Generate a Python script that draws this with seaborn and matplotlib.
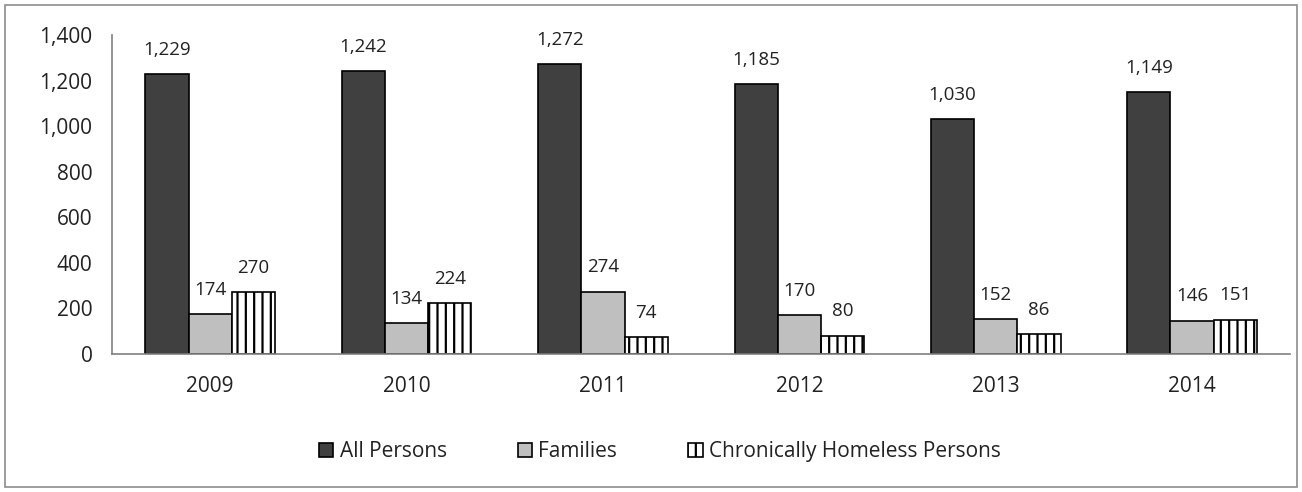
import numpy as np
import pandas as pd
import matplotlib
matplotlib.use('Agg')
import matplotlib.pyplot as plt
import seaborn as sns
from matplotlib.patches import Rectangle

years = ['2009', '2010', '2011', '2012', '2013', '2014']
all_persons = [1229, 1242, 1272, 1185, 1030, 1149]
families = [174, 134, 274, 170, 152, 146]
chronic = [270, 224, 74, 80, 86, 151]
series = ['All Persons', 'Families', 'Chronically Homeless Persons']

df = pd.DataFrame({
    'year': years * 3,
    'count': all_persons + families + chronic,
    'group': [series[0]] * 6 + [series[1]] * 6 + [series[2]] * 6,
})

sns.set_style('white')
plt.rcParams['font.family'] = ['Open Sans', 'DejaVu Sans']
plt.rcParams['hatch.linewidth'] = 1.6

fig = plt.figure(figsize=(13.02, 4.92), dpi=100)
ax = fig.add_axes([0.086, 0.2805, 0.905, 0.6484])

sns.barplot(
    data=df, x='year', y='count', hue='group', hue_order=series,
    palette=['#404040', '#bfbfbf', '#ffffff'],
    edgecolor='black', linewidth=1.2, width=0.66, ax=ax,
)

for bar in ax.containers[2]:
    bar.set_hatch('||')

for cont in ax.containers:
    ax.bar_label(cont, labels=[f'{v:,.0f}' for v in cont.datavalues],
                 padding=11, fontsize=13.5, color='#222222')

ax.set_ylim(0, 1400)
ax.set_yticks(np.arange(0, 1401, 200))
ax.yaxis.set_major_formatter(matplotlib.ticker.FuncFormatter(lambda v, p: f'{v:,.0f}'))
ax.set_xlim(-0.5, 5.5)
ax.set_xticks(np.arange(-0.5, 6, 1), minor=True)
ax.tick_params(axis='x', which='major', length=0, labelsize=15, pad=16, colors='#222222')
ax.tick_params(axis='x', which='minor', length=6, color='#808080', width=1, direction='out')
ax.tick_params(axis='y', length=6, color='#808080', width=1, direction='out', labelsize=15,
               pad=8, labelcolor='#222222')
ax.set_xlabel('')
ax.set_ylabel('')
sns.despine(ax=ax)
for s in ['left', 'bottom']:
    ax.spines[s].set_color('#808080')
    ax.spines[s].set_linewidth(1.2)

leg = ax.legend(handles=ax.containers, labels=series, loc='upper center',
                bbox_to_anchor=(0.465, -0.215), ncol=3, frameon=False, fontsize=15,
                handlelength=0.7, handleheight=0.7, handletextpad=0.3, columnspacing=3.4)
for t in leg.get_texts():
    t.set_color('#222222')

fig.patches.append(Rectangle((0.004, 0.01), 0.992, 0.98, transform=fig.transFigure,
                             fill=False, edgecolor='#8c8c8c', linewidth=1.2))

fig.savefig('out.png', dpi=100)
